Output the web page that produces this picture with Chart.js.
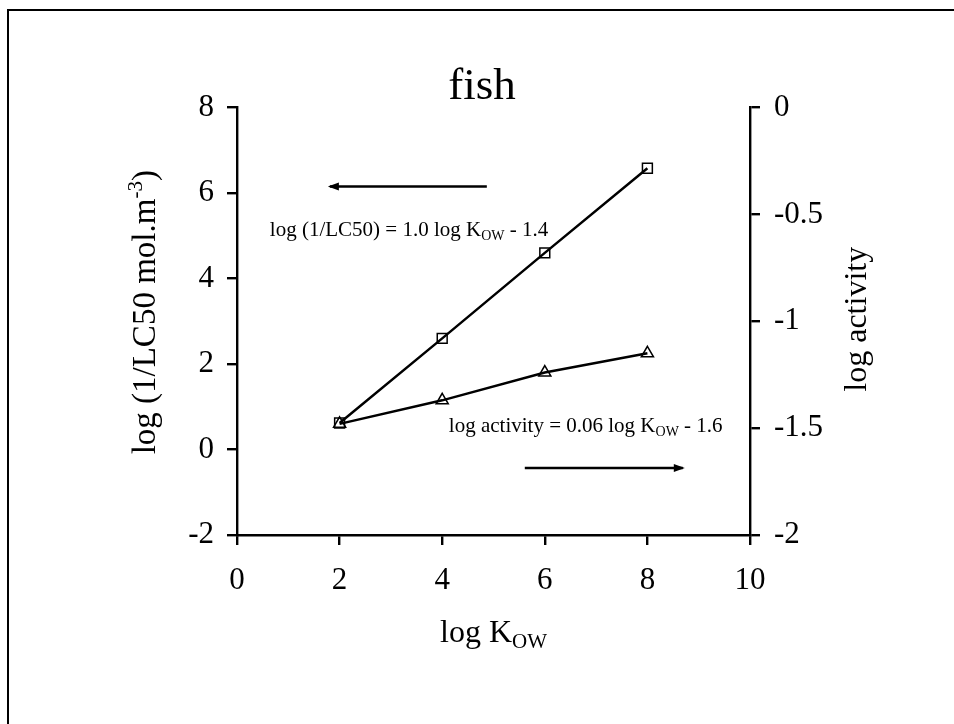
<!DOCTYPE html>
<html><head><meta charset="utf-8">
<script src="https://cdn.jsdelivr.net/npm/chart.js@4.4.1/dist/chart.umd.min.js"></script>
<style>html,body{margin:0;padding:0;background:#fff}canvas{display:block}</style>
</head><body>
<canvas id="c" width="954" height="724" style="width:954px;height:724px"></canvas>
<script>
// ---- data ----
const logKow = [2, 4, 6, 8];
const logInvLC50 = [0.62, 2.60, 4.60, 6.58];      // left axis, squares
const logActivity = [-1.48, -1.37, -1.24, -1.15]; // right axis, triangles
const xRange = [0, 10], xStep = 2;
const leftRange = [-2, 8], leftStep = 2;
const rightRange = [-2, 0], rightStep = 0.5;
const chartTitle = 'fish';
const leftTitleParts = ['log (1/LC50 mol.m', '-3', ')'];
const rightTitle = 'log activity';
const xTitleParts = ['log K', 'OW'];
const eq1Parts = ['log (1/LC50) = 1.0 log K', 'OW', ' - 1.4'];
const eq2Parts = ['log activity = 0.06 log K', 'OW', ' - 1.6'];
// annotation anchors in data units (x, left-axis y)
const eq1Pos = [0.64, 4.99];
const eq2Pos = [4.13, 0.40];
const arrowLeft = [[4.87, 6.15], [1.81, 6.15]];
const arrowRight = [[5.61, -0.43], [8.69, -0.43]];

const FONT = "'Liberation Serif', 'Times New Roman', serif";

function drawParts(ctx, parts, x, y, big, small, shift, align) {
  ctx.font = big + 'px ' + FONT;
  const w0 = ctx.measureText(parts[0]).width;
  const w2 = parts[2] ? ctx.measureText(parts[2]).width : 0;
  ctx.font = small + 'px ' + FONT;
  const w1 = ctx.measureText(parts[1]).width;
  const total = w0 + w1 + w2;
  let sx = align === 'center' ? x - total / 2 : x;
  ctx.textAlign = 'left';
  ctx.textBaseline = 'alphabetic';
  ctx.font = big + 'px ' + FONT;
  ctx.fillText(parts[0], sx, y);
  ctx.font = small + 'px ' + FONT;
  ctx.fillText(parts[1], sx + w0, y + shift);
  if (parts[2]) { ctx.font = big + 'px ' + FONT; ctx.fillText(parts[2], sx + w0 + w1, y); }
}

function arrow(ctx, x1, y1, x2, y2) {
  ctx.beginPath(); ctx.moveTo(x1, y1); ctx.lineTo(x2, y2); ctx.stroke();
  const dir = Math.sign(x2 - x1);
  ctx.beginPath();
  ctx.moveTo(x2 + dir * 2, y2);
  ctx.lineTo(x2 - dir * 9, y2 - 4);
  ctx.lineTo(x2 - dir * 9, y2 + 4);
  ctx.closePath(); ctx.fill();
}

const decor = {
  id: 'decor',
  beforeDraw(chart) {
    const ctx = chart.ctx;
    ctx.save();
    ctx.fillStyle = '#fff'; ctx.fillRect(0, 0, chart.width, chart.height);
    ctx.strokeStyle = '#000'; ctx.lineWidth = 2;
    ctx.beginPath(); ctx.moveTo(8, chart.height + 5); ctx.lineTo(8, 10); ctx.lineTo(chart.width + 5, 10); ctx.stroke();
    ctx.restore();
  },
  afterDraw(chart) {
    const ctx = chart.ctx, xs = chart.scales.x, ys = chart.scales.y;
    const area = chart.chartArea;
    ctx.save();
    ctx.fillStyle = '#000'; ctx.strokeStyle = '#000';
    // left axis title (rotated)
    ctx.save();
    ctx.translate(155, (area.top + area.bottom) / 2 - 9);
    ctx.rotate(-Math.PI / 2);
    ctx.font = '33px ' + FONT;
    const a = ctx.measureText(leftTitleParts[0]).width, c = ctx.measureText(leftTitleParts[2]).width;
    ctx.font = '21px ' + FONT;
    const b = ctx.measureText(leftTitleParts[1]).width;
    const s = -(a + b + c) / 2;
    ctx.textBaseline = 'alphabetic'; ctx.textAlign = 'left';
    ctx.font = '33px ' + FONT; ctx.fillText(leftTitleParts[0], s, 0);
    ctx.font = '21px ' + FONT; ctx.fillText(leftTitleParts[1], s + a, -13);
    ctx.font = '33px ' + FONT; ctx.fillText(leftTitleParts[2], s + a + b, 0);
    ctx.restore();
    // right axis title
    ctx.save();
    ctx.translate(866, (area.top + area.bottom) / 2 - 2);
    ctx.rotate(-Math.PI / 2);
    ctx.font = '32px ' + FONT; ctx.textAlign = 'center'; ctx.textBaseline = 'alphabetic';
    ctx.fillText(rightTitle, 0, 0);
    ctx.restore();
    // x axis title
    drawParts(ctx, xTitleParts, (area.left + area.right) / 2, area.bottom + 107, 32, 21, 6, 'center');
    // equations
    drawParts(ctx, eq1Parts, xs.getPixelForValue(eq1Pos[0]), ys.getPixelForValue(eq1Pos[1]), 21, 14, 4, 'left');
    drawParts(ctx, eq2Parts, xs.getPixelForValue(eq2Pos[0]), ys.getPixelForValue(eq2Pos[1]), 21, 14, 4, 'left');
    // arrows
    ctx.lineWidth = 2.5;
    arrow(ctx, xs.getPixelForValue(arrowLeft[0][0]), ys.getPixelForValue(arrowLeft[0][1]),
               xs.getPixelForValue(arrowLeft[1][0]), ys.getPixelForValue(arrowLeft[1][1]));
    arrow(ctx, xs.getPixelForValue(arrowRight[0][0]), ys.getPixelForValue(arrowRight[0][1]),
               xs.getPixelForValue(arrowRight[1][0]), ys.getPixelForValue(arrowRight[1][1]));
    ctx.restore();
  }
};

const tickFont = { family: FONT, size: 31 };
const axisCommon = {
  grid: { display: true, drawOnChartArea: false, drawTicks: true, tickLength: 10, color: '#000', lineWidth: 2.4 },
  border: { display: true, color: '#000', width: 2.4 },
};

new Chart(document.getElementById('c'), {
  type: 'scatter',
  data: {
    datasets: [
      { label: 'log (1/LC50)', data: logKow.map((x, i) => ({ x, y: logInvLC50[i] })), yAxisID: 'y',
        showLine: true, borderColor: '#000', borderWidth: 2.5, pointStyle: 'rect', pointRadius: 7,
        pointBorderWidth: 1.5, pointBackgroundColor: 'rgba(0,0,0,0)', pointBorderColor: '#000' },
      { label: 'log activity', data: logKow.map((x, i) => ({ x, y: logActivity[i] })), yAxisID: 'y2',
        showLine: true, borderColor: '#000', borderWidth: 2.5, pointStyle: 'triangle', pointRadius: 7,
        pointBorderWidth: 1.5, pointBackgroundColor: 'rgba(0,0,0,0)', pointBorderColor: '#000' }
    ]
  },
  options: {
    responsive: false, animation: false, devicePixelRatio: 1,
    layout: { padding: { left: 10, right: 0, top: 0, bottom: 0 } },
    plugins: {
      legend: { display: false }, tooltip: { enabled: false },
      title: { display: true, text: chartTitle, color: '#000',
        font: { family: FONT, size: 45, weight: 'normal', lineHeight: 0.9 },
        padding: { top: 67, bottom: 0 } }
    },
    scales: {
      x: { ...axisCommon, type: 'linear', position: 'bottom', min: xRange[0], max: xRange[1],
        ticks: { stepSize: xStep, font: tickFont, color: '#000', padding: 17, callback: v => String(v) },
        afterFit: s => { s.height = 189; } },
      y: { ...axisCommon, type: 'linear', position: 'left', min: leftRange[0], max: leftRange[1],
        ticks: { stepSize: leftStep, font: tickFont, color: '#000', padding: 13, callback: v => String(v) },
        afterFit: s => { s.width = 227; } },
      y2: { ...axisCommon, type: 'linear', position: 'right', min: rightRange[0], max: rightRange[1],
        ticks: { stepSize: rightStep, font: tickFont, color: '#000', padding: 14, callback: v => String(v) },
        afterFit: s => { s.width = 204; } }
    }
  },
  plugins: [decor]
});
</script>
</body></html>
